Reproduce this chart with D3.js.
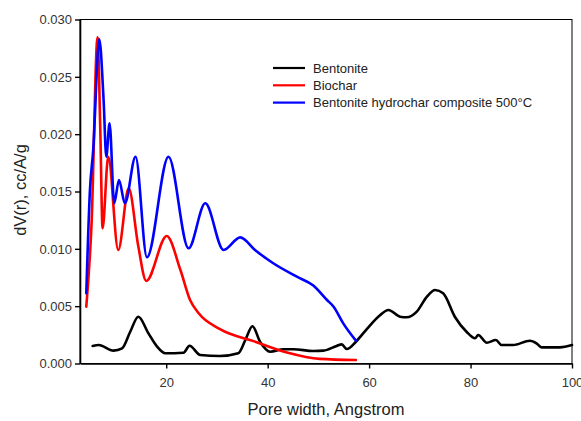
<!DOCTYPE html>
<html><head><meta charset="utf-8">
<script src="https://cdn.jsdelivr.net/npm/d3@7"></script>
<style>body{margin:0;background:#fff}svg{display:block}</style>
</head><body>
<svg id="c" width="581" height="421"></svg>
<script>
const bentoniteX = [5.5,6.7,9.6,11.3,12.9,14.5,16.5,18.2,19.8,23.4,24.6,26.7,30.6,34.2,35.6,37.0,38.5,40.5,43.1,45.1,49.0,51.0,53.6,54.6,55.6,57.4,59.5,62.2,63.8,66.1,67.4,69.4,71.4,73.0,74.6,76.9,79.2,80.9,81.5,83.2,85.0,86.1,88.4,91.7,93.0,94.0,97.6,100];
const bentoniteY = [0.00153,0.00161,0.00112,0.00132,0.00277,0.00408,0.00263,0.00147,0.00089,0.00094,0.00155,0.00074,0.00065,0.00089,0.00205,0.00325,0.0019,0.00103,0.00124,0.00124,0.00109,0.00112,0.00153,0.00167,0.00126,0.0019,0.00298,0.00423,0.00467,0.00408,0.00403,0.00452,0.00583,0.00641,0.00612,0.00408,0.00277,0.0022,0.00249,0.00181,0.00205,0.00161,0.00161,0.00199,0.00176,0.00141,0.00141,0.00161];
const biocharX = [4.24,5.28,6.46,7.0,7.45,8.57,10.54,12.6,14.5,16.06,20.1,22.8,24.7,26.4,30.6,37.2,43.8,50.3,57.4];
const biocharY = [0.00495,0.0122,0.02845,0.0204,0.01179,0.01803,0.0099,0.01528,0.0102,0.0072,0.01112,0.00815,0.00554,0.00438,0.003,0.00195,0.00096,0.0004,0.0003];
const compositeX = [4.24,4.96,5.6,6.8,7.65,8.18,8.83,9.75,10.68,11.86,13.95,16.2,20.45,24.4,27.7,31.3,34.6,37.5,41.1,45.75,49.0,51.7,53.0,54.9,57.4];
const compositeY = [0.00612,0.0151,0.0186,0.02827,0.0230,0.01803,0.02095,0.01397,0.0160,0.01397,0.01803,0.00926,0.01803,0.01005,0.01397,0.0099,0.0110,0.0099,0.00874,0.00757,0.0068,0.00554,0.00495,0.0035,0.00199];
const seriesNames = ["Bentonite","Biochar","Bentonite hydrochar composite 500\u00B0C"];
const seriesColors = ["#000000","#ff0000","#0000ff"];
const xTicks = [20,40,60,80,100];
const yTicks = [0,0.005,0.010,0.015,0.020,0.025,0.030];
const xTitle = "Pore width, Angstrom";
const yTitle = "dV(r), cc/A/g";

const svg = d3.select("#c");
const m = {l:80, r:9, t:19.5, b:57.5};
const W = 581, H = 421;
const x = d3.scaleLinear().domain([3,100]).range([m.l, W-m.r]);
const y = d3.scaleLinear().domain([0,0.030]).range([H-m.b, m.t]);
const font = "'Liberation Sans', Arial, Helvetica, sans-serif";

// frame
svg.append("rect").attr("x",m.l).attr("y",m.t).attr("width",W-m.r-m.l).attr("height",H-m.b-m.t)
  .attr("fill","none").attr("stroke","#000").attr("stroke-width",1);

const series = [
  {x:bentoniteX, y:bentoniteY},
  {x:biocharX, y:biocharY},
  {x:compositeX, y:compositeY}
];
const line = d3.line().x(d=>x(d[0])).y(d=>y(d[1])).curve(d3.curveMonotoneX);
series.forEach((s,i)=>{
  svg.append("path").datum(s.x.map((v,j)=>[v,s.y[j]]))
    .attr("d",line).attr("fill","none").attr("stroke",seriesColors[i])
    .attr("stroke-width",2.6).attr("stroke-linejoin","round").attr("stroke-linecap","round");
});

const gx = svg.append("g").attr("transform",`translate(0,${H-m.b})`)
  .call(d3.axisBottom(x).tickValues(xTicks).tickSize(5).tickPadding(9).tickSizeOuter(0));
const gy = svg.append("g").attr("transform",`translate(${m.l},0)`)
  .call(d3.axisLeft(y).tickValues(yTicks).tickFormat(d3.format(".3f")).tickSize(5).tickPadding(3).tickSizeOuter(0));
[gx,gy].forEach(g=>{
  g.select(".domain").attr("stroke","#000").attr("stroke-width",1.6);
  g.selectAll(".tick line").attr("stroke","#000").attr("stroke-width",1.4);
  g.selectAll(".tick text").attr("fill","#333").style("font-family",font).style("font-size","13px");
});

svg.append("text").attr("x",(m.l+W-m.r)/2).attr("y",415).attr("text-anchor","middle")
  .style("font-family",font).style("font-size","16.5px").attr("fill","#222").text(xTitle);
svg.append("text").attr("transform",`translate(26,190) rotate(-90)`).attr("text-anchor","middle")
  .style("font-family",font).style("font-size","16.5px").attr("fill","#222").text(yTitle);

// legend
const lg = svg.append("g");
seriesNames.forEach((n,i)=>{
  const ly = 68 + i*17.3;
  lg.append("line").attr("x1",273).attr("x2",305).attr("y1",ly).attr("y2",ly)
    .attr("stroke",seriesColors[i]).attr("stroke-width",2.2);
  lg.append("text").attr("x",313).attr("y",ly+4.5).style("font-family",font).style("font-size","13px")
    .attr("fill","#222").text(n);
});
</script>
</body></html>
